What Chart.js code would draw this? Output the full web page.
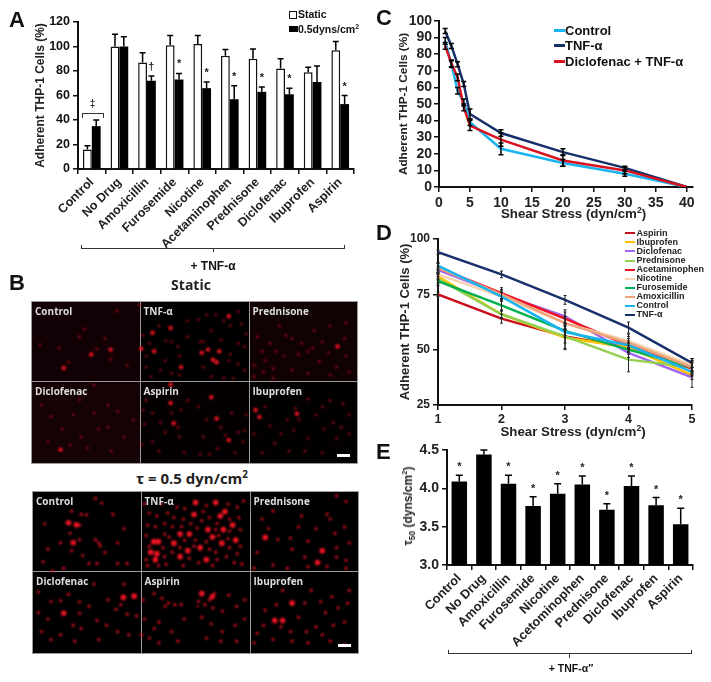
<!DOCTYPE html>
<html><head><meta charset="utf-8">
<script src="https://cdn.jsdelivr.net/npm/chart.js@4"></script>
<style>
html,body{margin:0;padding:0;background:#fff;overflow:hidden}
#p{position:relative;width:711px;height:682px;font-family:"Liberation Sans",Arial,sans-serif;font-weight:bold;color:#111}
#p canvas{position:absolute}
.t{position:absolute;white-space:nowrap;line-height:1}
.l{font-size:22px}
.c{transform:translateX(-50%)}
.g{position:absolute;background:#000}
.cell{position:absolute;border:1px solid #9a9a9a;box-sizing:border-box}
.n{position:absolute;font:bold 10px "Open Sans";color:#ddd;white-space:nowrap;z-index:3}
.k{position:absolute;height:2.5px;background:#fff;z-index:3}
.h{font-family:"Open Sans"}
sup{font-size:.65em;line-height:0}
sub{font-size:.7em;line-height:0}
.blur{filter:blur(.85px)}
</style></head><body><div id="p">
<canvas id="a" style="left:0;top:0" width="370" height="270"></canvas>
<canvas id="c" style="left:370px;top:0" width="341" height="218"></canvas>
<canvas id="d" style="left:370px;top:218px" width="341" height="222"></canvas>
<canvas id="e" style="left:370px;top:435px" width="341" height="247"></canvas>
</div>
<script>
// ---------- Panel A ----------
const drugs=["Control","No Drug","Amoxicillin","Furosemide","Nicotine","Acetaminophen","Prednisone","Diclofenac","Ibuprofen","Aspirin"];
const drugsE=["Control","No Drug","Amoxicillin","Furosemide","Nicotine","Acetominophen","Prednisone","Diclofenac","Ibuprofen","Aspirin"];
const staticVals=[16,100,87,101,102,92.5,90,82,79,97];
const staticErr=[3,10,8,8,7,5,8,8,4,7];
const flowVals=[35,100,72,73,66,57,63,61,71,53];
const flowErr=[5,8,4,5,5,11,4,5,13,7];
const flowMarks=["","","†","*","*","*","*","*","","*"];
// ---------- Panel C ----------
const shearC=[1,2,3,4,5,10,20,30,40];
const ctrlC=[88,74,58,51,39,23,14.5,8,0];
const ctrlCErr=[2,2,2,2,2,3.5,2,1.5,0];
const tnfC=[94,85,74,62,44,32.5,21,11.5,0];
const tnfCErr=[1.5,1.5,1.5,1.5,3,2,2,1,0];
const dicloC=[85,74.5,66,48,37,28.5,16,10,0];
const dicloCErr=[2,2,2,2,3,4,3.5,2,0];
// ---------- Panel D ----------
const shearD=[1,2,3,4,5];
const aspirin=[75,64,56,51,43], aspirinErr=[1,2,6,2,3];
const ibuprofen=[83,66,55.5,51,38.5], ibuprofenErr=[1.5,1.5,5,2,2];
const diclofenac=[86,75,65,48.5,37.5], diclofenacErr=[1.5,2,3,2,4.5];
const prednisone=[82,66,56,45.5,42], prednisoneErr=[2,2,3,5.5,2];
const acetaminophen=[87,75.5,64,52,41.5], acetaminophenErr=[2,2.5,3,3,3];
const nicotine=[84,74,62,54,43], nicotineErr=[2,2,3,3,3];
const furosemide=[81,70,58.5,50,42], furosemideErr=[2,2.5,3,2,3];
const amoxicillin=[87,75,62,53,42], amoxicillinErr=[2,2,3,3,3];
const controlD=[88,74,58,52,40], controlDErr=[1.5,2,1.5,2,2];
const tnfD=[94,84,72.5,60,44], tnfDErr=[1,1.5,2,2.5,2];
// ---------- Panel E ----------
const tau50=[4.09,4.44,4.06,3.77,3.93,4.05,3.72,4.03,3.78,3.53];
const tau50Err=[.08,.06,.11,.12,.13,.11,.08,.13,.1,.21];
const tauMarks=["*","","*","*","*","*","*","*","*","*"];
// ---------- Panel B: spots ----------
const staticLeftLarge=[[100,208],[248,150],[187,165],[90,465],[345,147],[385,155],[380,97],[437,82],[470,205],[437,260],[447,382],[437,318]];
const staticLeftSmall=[[230,115],[165,85],[268,28],[205,148],[115,190],[248,180],[25,135],[150,110],[85,145],[300,200],[195,262],[240,325],[150,308],[30,325],[130,355],[240,395],[155,425],[50,440],[210,400],[290,425],[320,372],[270,345],[95,400],[175,460],[120,450],[60,360],[250,470],[195,350],[400,75],[440,125],[422,122],[360,170],[465,170],[420,185],[405,215],[375,235],[360,205],[350,105],[490,60],[460,140],[490,110],[440,225],[465,230],[370,130],[340,10],[350,340],[380,350],[360,310],[405,380],[470,340],[420,410],[380,440],[355,385],[465,425],[480,475],[345,450],[440,350],[400,470],[490,310],[460,395]];
const staticRightLarge=[[100,45],[35,150],[15,160],[50,182],[62,190],[70,155],[443,140],[197,362],[315,352],[185,340],[62,367],[100,435],[45,300]];
const staticRightSmall=[[105,75],[20,125],[100,185],[130,130],[45,90],[75,120],[130,30],[140,70],[5,55],[60,40],[30,40],[85,60],[150,140],[130,195],[20,205],[85,240],[45,235],[150,215],[115,240],[10,125],[105,165],[155,100],[5,330],[65,462],[130,410],[150,405],[20,425],[90,420],[110,350],[30,370],[145,440],[40,480],[120,475],[155,355],[10,480],[75,395],[385,187],[350,155],[365,145],[280,105],[300,115],[240,210],[180,200],[215,185],[250,155],[205,155],[320,165],[415,160],[465,115],[330,130],[440,205],[470,65],[190,110],[420,75],[370,90],[260,75],[230,130],[300,215],[180,235],[350,225],[395,125],[480,220],[275,170],[420,230],[470,170],[240,240],[210,220],[310,335],[322,370],[265,415],[305,405],[350,430],[400,400],[430,380],[375,355],[230,390],[180,415],[285,370],[460,320],[480,355],[350,305],[395,330],[440,430],[205,475],[290,470],[340,470],[395,475],[245,445],[455,395],[480,415],[215,330],[420,310]];
const shearLeftLarge=[[140,103],[130,160],[115,97],[288,332],[322,328],[100,382]];
const shearLeftSmall=[[150,105],[155,70],[172,72],[200,150],[210,160],[215,170],[40,100],[120,130],[255,70],[290,115],[270,160],[90,160],[50,180],[180,225],[205,225],[125,185],[150,150],[35,220],[230,190],[300,225],[200,20],[125,60],[220,35],[160,200],[100,240],[270,225],[65,248],[150,382],[150,345],[90,342],[60,345],[115,322],[20,315],[130,420],[205,405],[265,370],[280,355],[195,290],[290,290],[50,400],[20,380],[90,450],[155,430],[235,420],[300,385],[330,390],[270,440],[60,465],[135,470],[210,465],[305,450],[30,440],[180,360],[240,340],[410,335],[430,350],[450,355],[470,355],[420,360],[385,430],[355,400],[370,460],[400,410],[440,440],[350,340],[480,400],[400,475],[345,450],[460,470],[385,320]];
const shearRightLarge=[[48,330],[15,320],[380,222],[215,143],[395,185],[245,405],[300,350],[270,405]];
const shearRightSmall=[[40,340],[55,320],[5,345],[25,355],[50,365],[80,375],[125,360],[15,395],[45,415],[80,440],[120,420],[150,400],[30,460],[75,470],[125,470],[150,340],[0,360],[100,325],[255,150],[295,145],[350,155],[375,115],[205,85],[240,60],[330,75],[440,175],[470,240],[470,215],[440,205],[285,240],[180,240],[240,230],[340,205],[420,85],[435,130],[410,70],[465,110],[190,190],[300,180],[480,160],[440,12],[470,30],[320,110],[225,115],[350,235],[410,235],[295,440],[265,425],[215,372],[210,420],[190,445],[340,350],[390,345],[405,380],[375,425],[430,420],[465,410],[345,440],[395,450],[445,365],[270,310],[360,310],[250,355],[300,470],[180,475],[420,470],[475,350],[320,395],[465,480],[350,475],[240,465],[480,310],[425,330]];
const tnfShearLarge=[[165,65],[235,25],[250,70],[120,130],[50,155],[35,155],[185,175],[255,160],[100,160],[40,215],[120,205],[205,215],[25,190],[210,115],[150,130],[225,140],[300,150],[290,100],[265,55],[170,25],[45,195],[145,185],[260,115]];
const tnfShearSmall=[[60,30],[110,40],[135,45],[195,55],[205,35],[275,30],[305,40],[20,60],[45,70],[80,60],[100,75],[130,80],[155,95],[190,85],[215,75],[240,95],[280,80],[310,75],[15,100],[40,105],[70,95],[95,105],[125,105],[175,110],[235,115],[280,120],[315,115],[10,135],[70,130],[85,140],[135,150],[170,150],[205,155],[245,135],[275,145],[315,170],[20,170],[65,175],[120,175],[165,170],[215,180],[235,190],[280,175],[305,195],[10,215],[70,205],[95,190],[150,210],[180,225],[240,215],[270,205],[295,225],[75,230],[130,235],[225,235],[320,230],[15,235],[50,235],[5,30],[325,20]];

const FONT='"Liberation Sans", Arial, sans-serif';
Chart.defaults.font.family=FONT; Chart.defaults.font.weight='bold'; Chart.defaults.color='#111';
Chart.defaults.animation=false;

const p=document.getElementById('p');
function el(tag,cls,style,html){const e=document.createElement(tag);e.className=cls;e.style.cssText=style;if(html!=null)e.innerHTML=html;p.appendChild(e);return e;}

function axisBase(){return {border:{color:'#111',width:2},grid:{drawOnChartArea:false,color:'#111',lineWidth:1.5,tickLength:5,tickColor:'#111'}};}
function fixed(size,key){return s=>{s[key]=size;};}

const whiskers={id:'whiskers',afterDatasetsDraw(ch,a,o){
  const ctx=ch.ctx,ys=ch.scales.y;ctx.save();ctx.strokeStyle=o.color||'#000';ctx.lineWidth=o.width||1.5;
  (o.errors||[]).forEach((err,i)=>{const m=ch.getDatasetMeta(i),d=ch.data.datasets[i].data;
    m.data.forEach((el,j)=>{const val=typeof d[j]==='object'?d[j].y:d[j],e=err[j];if(!e)return;
      const x=el.x,t=ys.getPixelForValue(val+e),b=o.two?ys.getPixelForValue(val-e):el.y,c=o.cap||3;
      ctx.beginPath();ctx.moveTo(x,b);ctx.lineTo(x,t);ctx.moveTo(x-c,t);ctx.lineTo(x+c,t);
      if(o.two){ctx.moveTo(x-c,b);ctx.lineTo(x+c,b);}ctx.stroke();});});
  ctx.restore();}};
const marks={id:'marks',afterDatasetsDraw(ch,a,o){
  if(!o.labels)return;const ctx=ch.ctx,ys=ch.scales.y,m=ch.getDatasetMeta(o.index),d=ch.data.datasets[o.index].data;
  ctx.save();ctx.fillStyle='#222';ctx.font='bold '+(o.size||11)+'px '+FONT;ctx.textAlign='center';ctx.textBaseline='middle';
  o.labels.forEach((t,j)=>{if(t)ctx.fillText(t,m.data[j].x,ys.getPixelForValue(d[j]+o.errors[j])-(o.gap||7));});
  ctx.restore();}};

// A
new Chart('a',{type:'bar',plugins:[whiskers,marks],data:{labels:drugs,datasets:[
  {label:'Static',data:staticVals,backgroundColor:'#fff',borderColor:'#111',borderWidth:1.5},
  {label:'0.5dyns/cm²',data:flowVals,backgroundColor:'#000',borderColor:'#000',borderWidth:0}]},
 options:{responsive:false,layout:{padding:{top:22,right:16,left:0,bottom:0}},
  datasets:{bar:{categoryPercentage:.64,barPercentage:1}},
  plugins:{legend:{display:false},tooltip:{enabled:false},
    whiskers:{errors:[staticErr,flowErr],cap:3},marks:{labels:flowMarks,index:1,errors:flowErr,size:11,gap:9}},
  scales:{
   x:{...axisBase(),afterFit:fixed(101,'height'),grid:{...axisBase().grid,offset:true},
      ticks:{minRotation:45,maxRotation:45,autoSkip:false,font:{size:12.5},color:'#222',padding:1}},
   y:{...axisBase(),min:0,max:120,afterFit:fixed(78,'width'),ticks:{stepSize:20,font:{size:12.5},padding:3,autoSkip:false},
      title:{display:true,text:'Adherent THP-1 Cells (%)',font:{size:12},color:'#222',padding:{top:33,bottom:0}}}}}});

// C
new Chart('c',{type:'line',plugins:[whiskers],data:{datasets:[
  {label:'Control',data:shearC.map((x,i)=>({x,y:ctrlC[i]})),borderColor:'#19b5f1',order:3},
  {label:'TNF-α',data:shearC.map((x,i)=>({x,y:tnfC[i]})),borderColor:'#17306b',order:2},
  {label:'Diclofenac + TNF-α',data:shearC.map((x,i)=>({x,y:dicloC[i]})),borderColor:'#d8121f',order:1}]},
 options:{responsive:false,layout:{padding:{top:21,right:18,left:0,bottom:0}},
  elements:{point:{radius:0},line:{borderWidth:2.5,tension:0}},
  plugins:{legend:{display:false},tooltip:{enabled:false},whiskers:{errors:[ctrlCErr,tnfCErr,dicloCErr],two:true,cap:2.5}},
  scales:{
   x:{...axisBase(),type:'linear',min:0,max:41,afterFit:fixed(31,'height'),afterBuildTicks:s=>{s.ticks=s.ticks.filter(t=>t.value<=40);},
      ticks:{stepSize:5,font:{size:14},padding:3,color:'#222',maxRotation:0,autoSkip:false,includeBounds:false}},
   y:{...axisBase(),min:0,max:100,afterFit:fixed(69,'width'),ticks:{stepSize:10,font:{size:14},padding:2,color:'#222',autoSkip:false},
      title:{display:true,text:'Adherent THP-1 Cells (%)',font:{size:11.8},color:'#222',padding:{top:27,bottom:0}}}}}});

// D
const dSeries=[['Aspirin',aspirin,aspirinErr,'#c8101c'],['Ibuprofen',ibuprofen,ibuprofenErr,'#ffc000'],['Diclofenac',diclofenac,diclofenacErr,'#a066f0'],['Prednisone',prednisone,prednisoneErr,'#92d050'],['Acetaminophen',acetaminophen,acetaminophenErr,'#f01020'],['Nicotine',nicotine,nicotineErr,'#fbd2b0'],['Furosemide',furosemide,furosemideErr,'#00b050'],['Amoxicillin',amoxicillin,amoxicillinErr,'#eda37c'],['Control',controlD,controlDErr,'#19b5f1'],['TNF-α',tnfD,tnfDErr,'#17306b']];
new Chart('d',{type:'line',plugins:[whiskers],data:{datasets:dSeries.map((s,i)=>({label:s[0],data:shearD.map((x,j)=>({x,y:s[1][j]})),borderColor:s[3],order:10-i}))},
 options:{responsive:false,layout:{padding:{top:21,right:19,left:0,bottom:0}},
  elements:{point:{radius:0},line:{borderWidth:2.5,tension:0}},
  plugins:{legend:{display:false},tooltip:{enabled:false},whiskers:{errors:dSeries.map(s=>s[2]),two:true,cap:1.5,width:1,color:'#222'}},
  scales:{
   x:{...axisBase(),type:'linear',min:1,max:5,afterFit:fixed(35,'height'),
      ticks:{stepSize:1,font:{size:12.5},padding:2,color:'#222',maxRotation:0,autoSkip:false}},
   y:{...axisBase(),min:25,max:100,afterFit:fixed(68,'width'),ticks:{stepSize:25,font:{size:12},padding:3,color:'#222',autoSkip:false},
      title:{display:true,text:'Adherent THP-1 Cells (%)',font:{size:13},color:'#222',padding:{top:28,bottom:0}}}}}});

// E
new Chart('e',{type:'bar',plugins:[whiskers,marks],data:{labels:drugsE,datasets:[{label:'τ50',data:tau50,backgroundColor:'#000',borderWidth:0}]},
 options:{responsive:false,layout:{padding:{top:15,right:18,left:0,bottom:0}},
  datasets:{bar:{categoryPercentage:.63,barPercentage:1}},
  plugins:{legend:{display:false},tooltip:{enabled:false},whiskers:{errors:[tau50Err],cap:3.5},marks:{labels:tauMarks,index:0,errors:tau50Err,size:11,gap:8}},
  scales:{
   x:{...axisBase(),afterFit:fixed(117,'height'),grid:{...axisBase().grid,offset:true},
      ticks:{minRotation:45,maxRotation:45,autoSkip:false,font:{size:12.8},color:'#222',padding:1}},
   y:{...axisBase(),min:3,max:4.5,afterFit:fixed(77,'width'),ticks:{stepSize:.5,font:{size:14},padding:3,color:'#222',autoSkip:false,callback:v=>v.toFixed(1)}}}}});

// DOM axis titles that sit off-centre in the reference
el('div','t c','left:573.5px;top:207px;font-size:13.3px;color:#222','Shear Stress (dyn/cm<sup>2</sup>)');
el('div','t c','left:573px;top:425px;font-size:13.3px;color:#222','Shear Stress (dyn/cm<sup>2</sup>)');
el('div','t','left:407.5px;top:506px;font-size:12px;color:#222;transform:translate(-50%,-50%) rotate(-90deg)','τ<sub>50</sub> (dyns/cm<sup>2</sup>)');

// Panel letters
[['A',9,9],['B',9,272],['C',376,7],['D',376,222],['E',376,441]].forEach(t=>el('div','t l',`left:${t[1]}px;top:${t[2]}px`,t[0]));
// A legend
el('div','g','left:289px;top:11px;width:6px;height:6px;background:#fff;border:1.5px solid #111');
el('div','g','left:289px;top:26px;width:9px;height:6px');
el('div','t',`left:298px;top:9px;font-size:10.5px`,'Static');
el('div','t',`left:298px;top:23.5px;font-size:10.5px`,'0.5dyns/cm<sup>2</sup>');
// A brackets
el('div','g','left:82px;top:113px;width:20px;height:4px;background:none;border:1px solid #333;border-bottom:none');
el('div','t c','left:92.5px;top:99px;font-size:10px;color:#333','‡');
el('div','g','left:81px;top:245px;width:262px;height:3px;background:none;border:1px solid #333;border-top:none');
el('div','g','left:212.5px;top:248px;width:1px;height:4px;background:#333');
el('div','t c','left:213px;top:260px;font-size:12px','+ TNF-α');
// C legend
[['Control','#19b5f1',30],['TNF-α','#17306b',45],['Diclofenac + TNF-α','#d8121f',61]].forEach(r=>{
  el('div','g',`left:554px;top:${r[2]-1}px;width:11px;height:2.5px;background:${r[1]}`);
  el('div','t',`left:565px;top:${r[2]-6.5}px;font-size:13px`,r[0]);});
// D legend
dSeries.forEach((s,i)=>{const y=233.3+i*9.07;
  el('div','g',`left:625px;top:${y-1}px;width:10px;height:2px;background:${s[3]}`);
  el('div','t',`left:636.5px;top:${y-4.5}px;font-size:9px;color:#222`,s[0]);});
// E brace
el('div','g','left:447.5px;top:650px;width:242px;height:3px;background:none;border:1px solid #333;border-top:none');
el('div','g','left:568.5px;top:654px;width:1px;height:4px;background:#333');
el('div','t c','left:571px;top:663px;font-size:10.5px','+ TNF-α″');

// Panel B frames
el('div','t c h','left:191px;top:278px;font-size:14px;color:#222','Static');
el('div','t c h','left:192px;top:471px;font-size:15px;color:#222','τ = 0.5 dyn/cm<sup>2</sup>');
function block(top,gy,xs,tints,names,bar){
  const x=[xs,xs+108.5,xs+217.5,xs+325.5];
  for(let r=0;r<2;r++)for(let c=0;c<3;c++){
    const yy=r?gy:top,h=r?(top+161.7-gy):(gy-top);
    el('div','cell',`left:${x[c]}px;top:${yy}px;width:${x[c+1]-x[c]+1}px;height:${h+1}px;background:${tints[r*3+c]}`);
    el('div','n',`left:${x[c]+4}px;top:${yy+3}px`,names[r*3+c]);
  }
  el('div','k',`left:${xs+306}px;top:${bar}px;width:13px`);
}
const names=['Control','TNF-α','Prednisone','Diclofenac','Aspirin','Ibuprofen'];
block(301,381,31,['#120104','#000','#100103','#140205','#040001','#030000'],names,454);
block(491,571,32,['#000','#000','#000','#000','#000','#000'],names,644);

function spots(left,top,w,h,xmax,ymax,large,small,big){
  const cv=document.createElement('canvas');cv.width=w;cv.height=h;cv.className='blur';
  cv.style.cssText=`left:${left}px;top:${top}px;z-index:2`;p.appendChild(cv);
  new Chart(cv,{type:'scatter',data:{datasets:[
    {data:small.map(q=>({x:q[0],y:q[1]})),pointRadius:big?1.6:1.3,backgroundColor:big?'#d01020':'#a80c1a',borderWidth:0},
    {data:large.map(q=>({x:q[0],y:q[1]})),pointRadius:big?2.8:2.2,backgroundColor:'#f01424',borderWidth:0}]},
   options:{responsive:false,layout:{padding:0},plugins:{legend:{display:false},tooltip:{enabled:false}},
    scales:{x:{display:false,min:0,max:xmax},y:{display:false,min:0,max:ymax,reverse:true}}}});
}
spots(28,298,165,168,495,504,staticLeftLarge,staticLeftSmall,false);
spots(193,298,165,168,495,504,staticRightLarge,staticRightSmall,false);
spots(28,488,165,168,495,504,shearLeftLarge,shearLeftSmall,true);
spots(193,488,165,168,495,504,shearRightLarge,shearRightSmall,true);
spots(139,491,110,82,330,246,tnfShearLarge,tnfShearSmall,true);
</script></body></html>
